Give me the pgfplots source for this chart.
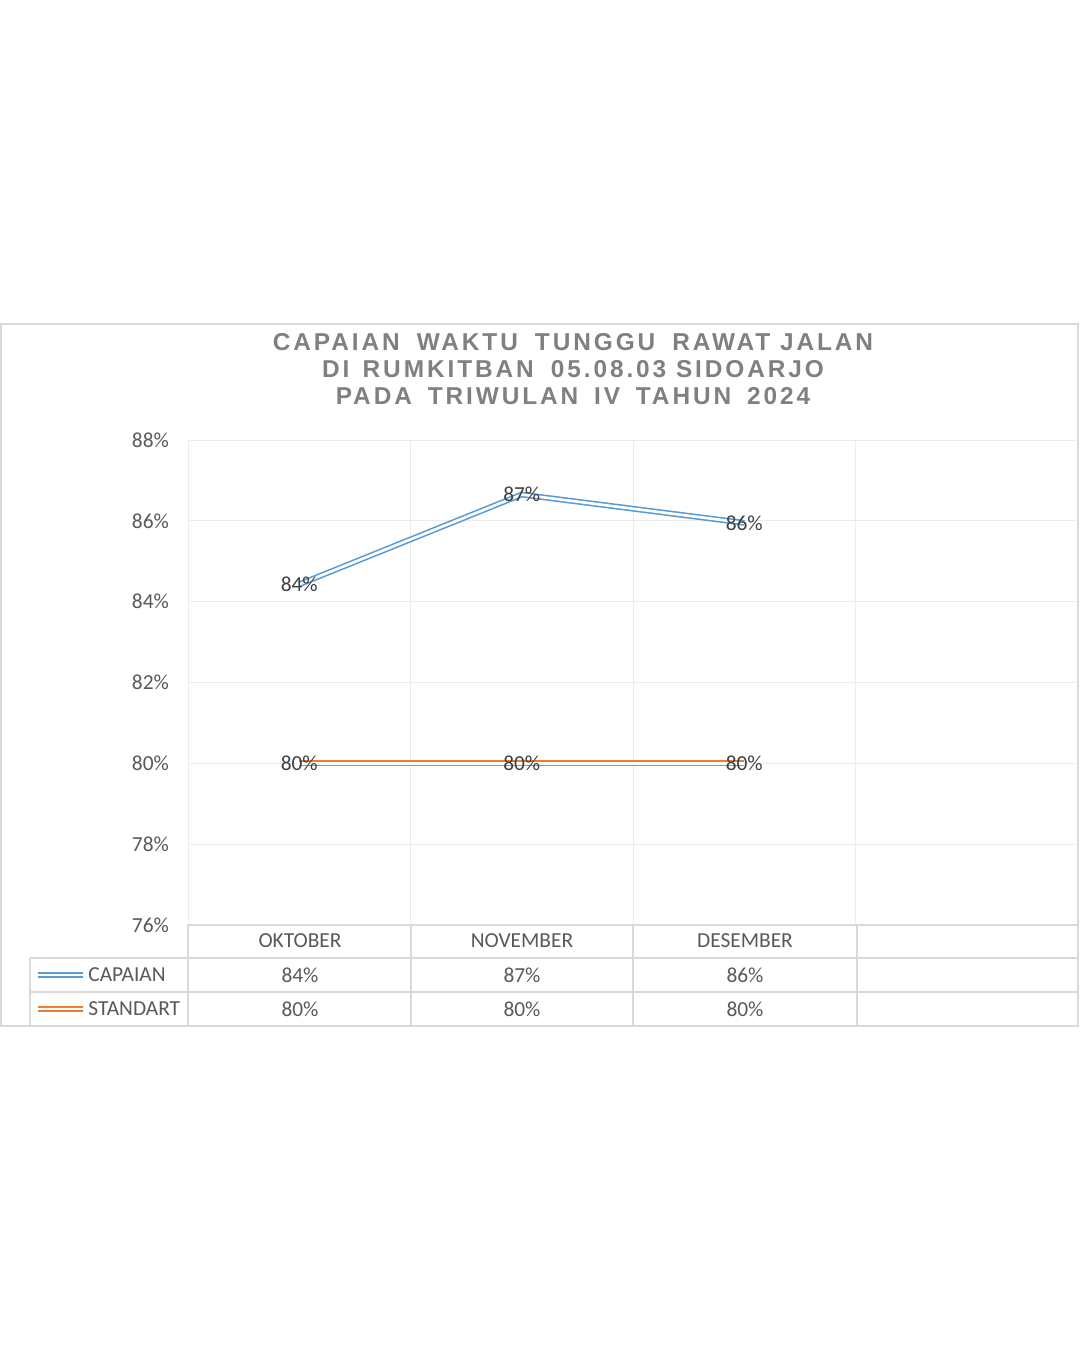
\documentclass[border=0pt]{standalone}
\usepackage{pgfplots}
\pgfplotsset{compat=1.18}
\usepackage{fontspec}
\setmainfont{Carlito}
\newfontfamily\titlefont[LetterSpace=12]{Liberation Sans}
\definecolor{cblue}{RGB}{91,155,213}
\definecolor{corange}{RGB}{237,125,49}
\definecolor{tgray}{RGB}{89,89,89}
\definecolor{lgray}{RGB}{64,64,64}
\definecolor{titlegray}{RGB}{128,128,128}
\definecolor{gridc}{RGB}{236,236,236}
\definecolor{tablec}{RGB}{217,217,217}
\newcommand\lblfont{\fontsize{10.7}{12}\selectfont}
\begin{document}
\begin{tikzpicture}
\begin{scope}[x=0.5pt,y=-0.5pt]
\fill[white] (0,0) rectangle (1080,1350);
\draw[tablec, line width=1pt] (1,324) rectangle (1078,1026);
\node[text=titlegray, font=\titlefont\bfseries\fontsize{12.2}{13.5}\selectfont, align=center] at (573,369)
{CAPAIAN\hspace{0.3em} WAKTU\hspace{0.3em} TUNGGU\hspace{0.3em} RAWAT JALAN\\
DI\hspace{0.15em} RUMKITBAN\hspace{0.3em} 05.08.03 SIDOARJO\\
PADA\hspace{0.25em} TRIWULAN\hspace{0.25em} IV\hspace{0.25em} TAHUN\hspace{0.25em} 2024};
\end{scope}
\begin{axis}[at={(94pt,-462.5pt)}, anchor=south west, scale only axis,
  width=445pt, height=242.5pt,
  xmin=-0.5, xmax=3.5, ymin=76, ymax=88,
  /pgf/number format/assume math mode=true,
  ytick={76,78,...,88}, xtick={-0.5,0.5,1.5,2.5}, xticklabels={},
  xmajorgrids, ymajorgrids, grid style={gridc, line width=0.5pt},
  axis line style={draw=none}, major tick length=0pt,
  yticklabel={\pgfmathprintnumber{\tick}\%},
  yticklabel style={font=\lblfont, text=tgray, xshift=-6pt},
  clip=false,
  nodes near coords={\pgfmathprintnumber[fixed,precision=0]{\pgfplotspointmeta}\%},
  nodes near coords style={anchor=center, font=\lblfont, text=lgray},
]
\addplot[cblue, mark=none, line width=0.8pt, double=white, double distance=1.3pt]
  coordinates {(0,84.43) (1,86.65) (2,85.95)};
\addplot[corange, mark=none, line width=0.8pt, double=white, double distance=1.3pt]
  coordinates {(0,80) (1,80) (2,80)};
\end{axis}
\begin{scope}[x=0.5pt,y=-0.5pt]
\draw[tablec, line width=0.6pt] (188,925) -- (1078,925);
\draw[tablec, line width=0.6pt] (30,958) -- (1078,958);
\draw[tablec, line width=0.6pt] (30,992) -- (1078,992);
\draw[tablec, line width=0.6pt] (30,958) -- (30,1026);
\foreach \xx in {188,411,633,857} \draw[tablec, line width=0.6pt] (\xx,925) -- (\xx,1026);
\begin{scope}[every node/.style={font=\lblfont, text=tgray}]
\node at (300,941) {OKTOBER};
\node at (522,941) {NOVEMBER};
\node at (745,941) {DESEMBER};
\node at (300,975) {84\%};
\node at (522,975) {87\%};
\node at (745,975) {86\%};
\node at (300,1009) {80\%};
\node at (522,1009) {80\%};
\node at (745,1009) {80\%};
\node[anchor=west, inner sep=0pt] at (88,975) {CAPAIAN};
\node[anchor=west, inner sep=0pt] at (88,1009) {STANDART};
\end{scope}
\draw[cblue, line width=0.8pt, double=white, double distance=1.3pt] (38,975) -- (83,975);
\draw[corange, line width=0.8pt, double=white, double distance=1.3pt] (38,1009) -- (83,1009);
\end{scope}
\end{tikzpicture}
\end{document}
